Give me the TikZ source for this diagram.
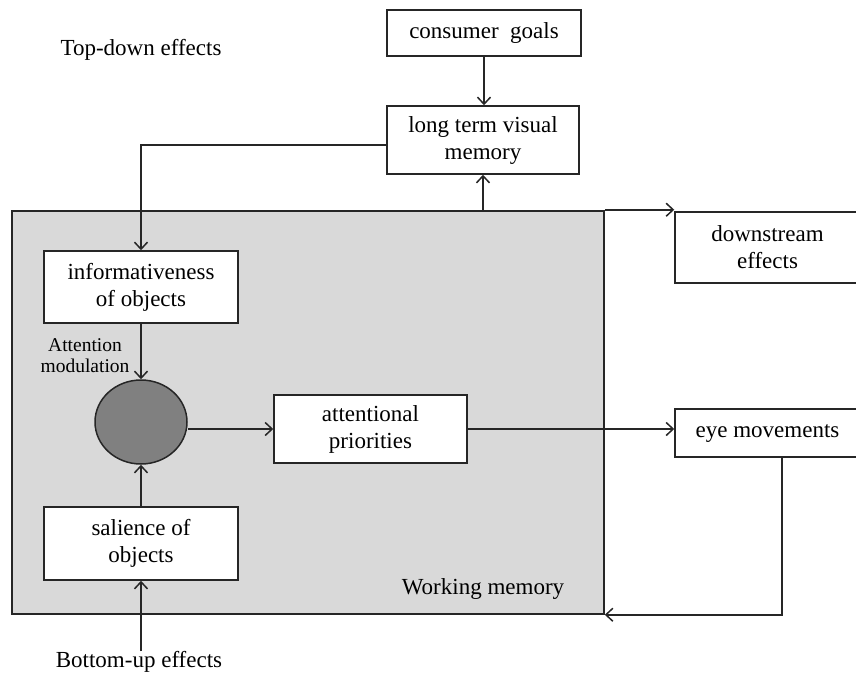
\documentclass[tikz,border=0pt]{standalone}
\usepackage{fontspec}
\setmainfont{Liberation Serif}
\usetikzlibrary{arrows.meta,shapes.geometric,calc}
\definecolor{wmgray}{HTML}{D9D9D9}
\definecolor{circgray}{HTML}{808080}
\definecolor{edge}{HTML}{262626}
\begin{document}
\begin{tikzpicture}[x=1pt,y=-1pt,
  box/.style={draw=edge, line width=1.5pt, fill=white, align=center,
    font=\fontsize{23}{27}\selectfont, inner sep=0pt},
  lbl/.style={font=\fontsize{23}{27}\selectfont, align=center, inner sep=0pt},
  arr/.style={-{Straight Barb[length=7pt,width=13pt,line width=1.5pt]}, line width=1.5pt, draw=edge},
  ln/.style={line width=1.5pt, draw=edge}]
\useasboundingbox (0,0) rectangle (856,675);
\node[draw=edge, line width=1.5pt, fill=wmgray, minimum width=592, minimum height=403, inner sep=0pt] (wm) at (308,412.5) {};
\node[box, minimum width=194, minimum height=46] (cg) at (484,33) {consumer\ \ goals};
\node[box, minimum width=192, minimum height=68] (ltvm) at (483,140) {long term visual\\memory};
\node[box, minimum width=194, minimum height=72] (inf) at (141,287) {informativeness\\of objects};
\node[box, minimum width=194, minimum height=73] (sal) at (141,543.5) {salience of\\objects};
\node[box, minimum width=193, minimum height=68] (ap) at (370.5,429) {attentional\\priorities};
\node[box, minimum width=185, minimum height=71] (ds) at (767.5,247.5) {downstream\\effects};
\node[box, minimum width=185, minimum height=48] (eye) at (767.5,433) {eye movements};
\node[ellipse, draw=edge, line width=1.5pt, fill=circgray, minimum width=92, minimum height=84, inner sep=0pt] (circ) at (141,422) {};
\node[lbl] (td) at (141,50) {Top-down effects};
\node[lbl] (bu) at (139,662) {Bottom-up effects};
\node[lbl] (wml) at (483,589) {Working memory};
\node[font=\fontsize{19.5}{21}\selectfont, align=center, inner sep=0pt] (am) at (85,356) {Attention\\modulation};
\draw[arr] (cg.south) -- (cg.south |- ltvm.north);
\draw[arr] (ltvm.south |- wm.north) -- (ltvm.south);
\draw[arr] ([yshift=-5pt]ltvm.west) -| (inf.north);
\draw[arr] (inf.south) -- (circ.north);
\draw[arr] (sal.north) -- (circ.south);
\draw[arr] (sal.south |- bu.north) -- (sal.south);
\draw[arr] (circ.east |- ap.west) -- (ap.west);
\draw[arr] (ap.east) -- (ap.east -| eye.west);
\draw[arr] ([yshift=0.5pt]wm.north east) -- ([yshift=0.5pt]wm.north east -| ds.west);
\draw[arr] ([xshift=14.5pt]eye.south) |- (wm.south east);
\end{tikzpicture}
\end{document}
